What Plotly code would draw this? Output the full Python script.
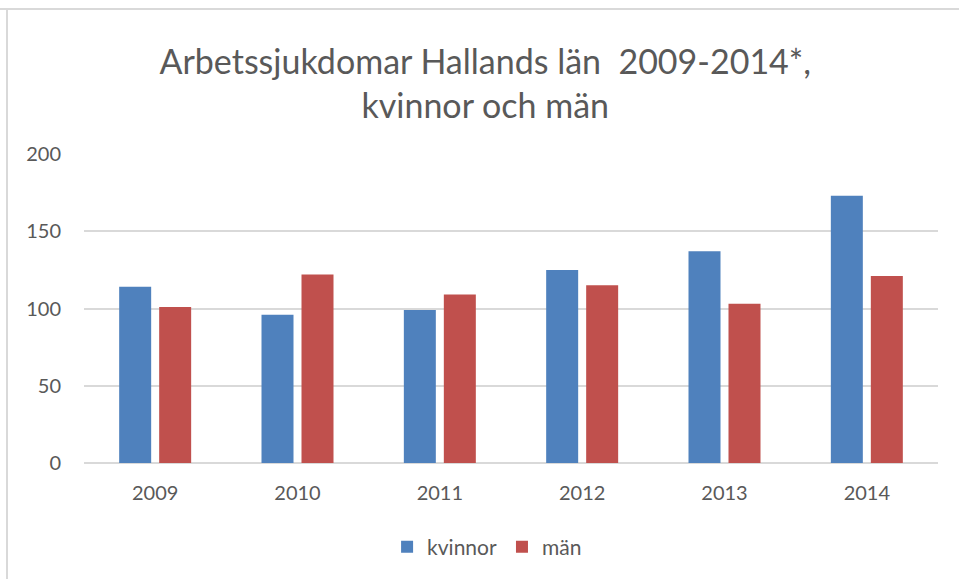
import plotly.graph_objects as go

years = ["2009", "2010", "2011", "2012", "2013", "2014"]
kvinnor = [114, 96, 99, 125, 137, 173]
man = [101, 122, 109, 115, 103, 121]
y_ticks = [0, 50, 100, 150, 200]

FONT = "Lato"
GRAY = "#595959"

fig = go.Figure()
fig.add_trace(go.Bar(name="kvinnor", x=years, y=kvinnor, marker=dict(color="#4f81bd", line=dict(width=0))))
fig.add_trace(go.Bar(name="män", x=years, y=man, marker=dict(color="#c0504d", line=dict(width=0))))

fig.update_layout(
    width=959, height=579,
    margin=dict(l=84, r=21, t=154, b=116),
    paper_bgcolor="white", plot_bgcolor="white",
    barmode="group", bargap=0.438, bargroupgap=0.2,
    font=dict(family=FONT, color=GRAY, size=20),
    title=dict(
        text="Arbetssjukdomar Hallands län \u00a02009-2014*,<br>kvinnor och män",
        x=0.506, xanchor="center", xref="container",
        y=1 - 74 / 579, yanchor="top", yref="container",
        font=dict(family=FONT, size=34, color=GRAY),
    ),
    xaxis=dict(showgrid=False, showline=False, ticks="", ticklabelstandoff=16,
               tickfont=dict(size=20, color=GRAY)),
    yaxis=dict(range=[0, 200], tickvals=y_ticks, showgrid=True, gridcolor="#d9d9d9", gridwidth=1.5,
               zeroline=True, zerolinecolor="#d9d9d9", zerolinewidth=1.5, showline=False, ticks="",
               ticklabelstandoff=22, tickfont=dict(size=20, color=GRAY)),
    legend=dict(orientation="h", x=0.472, xanchor="center", y=-84 / 309, yanchor="middle",
                font=dict(size=21, color=GRAY), itemwidth=30, traceorder="normal"),
    shapes=[
        dict(type="line", xref="paper", yref="paper", x0=-84/854, x1=1 + 21/854, y0=1 + 145/309, y1=1 + 145/309,
             line=dict(color="#d9d9d9", width=2)),
        dict(type="line", xref="paper", yref="paper", x0=-77/854, x1=-77/854, y0=-116/309, y1=1 + 145/309,
             line=dict(color="#d9d9d9", width=2)),
    ],
)

fig.write_html("out.html", config={"displayModeBar": False},
               post_script="document.body.style.margin='0';")
